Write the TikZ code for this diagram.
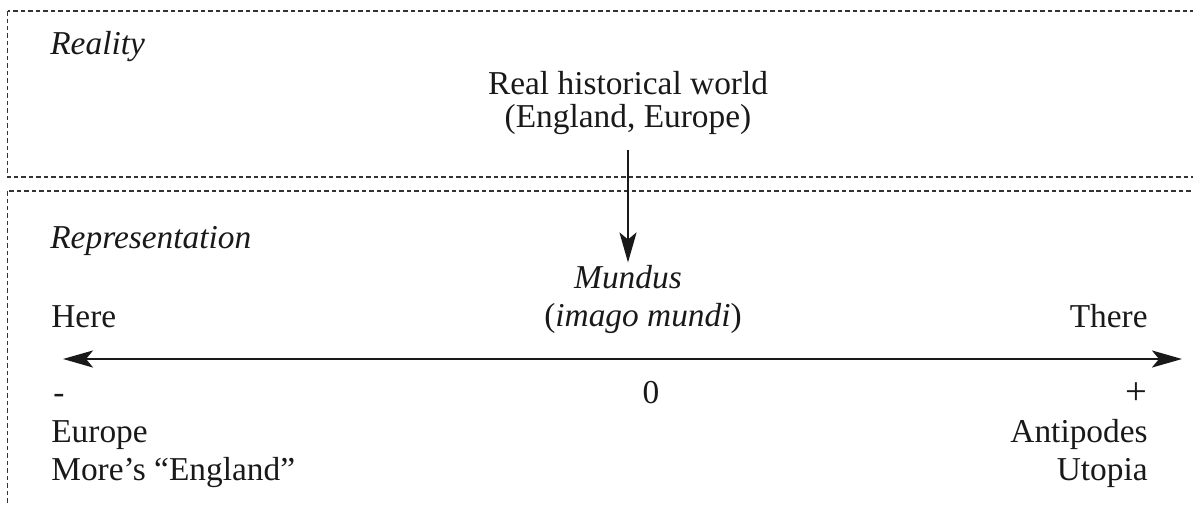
\documentclass[tikz,border=0pt]{standalone}
\usepackage{fontspec}
\setmainfont{Liberation Serif}
\usetikzlibrary{arrows.meta,positioning}

\tikzset{
  txt/.style={inner sep=0pt, font=\fontsize{19}{23}\selectfont, text=black!90},
  frame/.style={draw=black!80, line width=0.7pt, dash pattern=on 0.09cm off 0.06cm},
  arr/.style={-{Stealth[length=0.6cm,width=0.34cm,inset=0.14cm]}, line width=1.5pt, black!90},
  axis/.style={{Stealth[length=0.6cm,width=0.34cm,inset=0.14cm]}-{Stealth[length=0.6cm,width=0.34cm,inset=0.14cm]}, line width=1.5pt, black!90}
}

\begin{document}
\begin{tikzpicture}[x=0.02cm,y=-0.02cm]
    \clip (0,0) rectangle (1193,504);
    \draw[frame] (7.5,11) rectangle (1215,177);
    \draw[frame] (7.5,191) rectangle (1215,520);
    % reality
    \node[txt,anchor=base west] (reality) at (50,54) {\itshape Reality};
    \node[txt,anchor=base] (hist1) at (628,94) {Real historical world};
    \node[txt,anchor=base] (hist2) at (628,127) {(England, Europe)};
    % representation
    \node[txt,anchor=base west] (repr) at (50,248) {\itshape Representation};
    \node[txt,anchor=base] (mundus) at (628,288) {\itshape Mundus};
    \node[txt,anchor=base] (imago) at (643,326) {(\textit{imago mundi\/})};
    \node[txt,anchor=base west] (here) at (51,327) {Here};
    \node[txt,anchor=base east] (there) at (1148,327) {There};
    \node[txt,anchor=base west] (minus) at (53,403) {-};
    \node[txt,anchor=base] (zero) at (651,403) {0};
    \node[txt,anchor=base east,font=\fontsize{22}{23}\selectfont] (plus) at (1148,404) {+};
    \node[txt,anchor=base west] (europe) at (51,442) {Europe};
    \node[txt,anchor=base west] (more) at (51,480) {More’s “England”};
    \node[txt,anchor=base east] (antipodes) at (1148,442) {Antipodes};
    \node[txt,anchor=base east] (utopia) at (1148,480) {Utopia};
    \draw[arr,shorten <=0.3cm,shorten >=0.04cm] (hist2.south) -- (mundus.north);
    \coordinate (lend) at (63,359);
    \coordinate (rend) at (1182,359);
    \draw[axis] (lend) -- (rend);
  \end{tikzpicture}
\end{document}
